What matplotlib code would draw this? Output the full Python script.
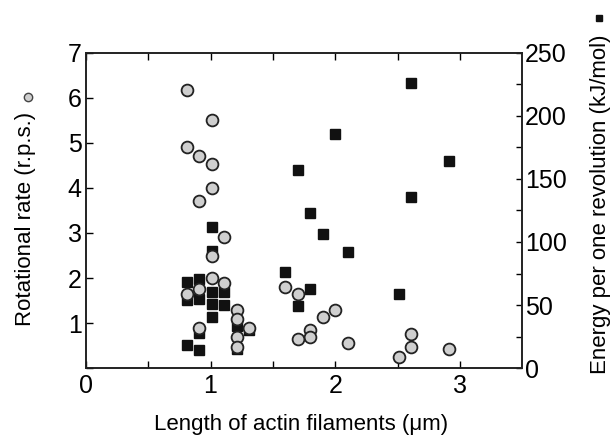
import matplotlib.pyplot as plt
from matplotlib.lines import Line2D
from matplotlib.ticker import MultipleLocator

plt.rcParams['font.family'] = ['Liberation Sans', 'DejaVu Sans']

# rotational rate (r.p.s.) vs filament length (um) -- open circles, left axis
rate_len = [0.81, 1.01, 0.81, 0.91, 1.01, 1.01, 0.91, 1.11, 1.01, 0.81, 0.91,
            1.01, 1.11, 1.21, 1.21, 1.21, 1.21, 1.31, 0.91,
            1.60, 1.70, 1.80, 1.80, 1.70, 1.90, 2.00, 2.10, 2.51, 2.61, 2.61, 2.91]
rate = [6.18, 5.50, 4.90, 4.70, 4.53, 4.00, 3.70, 2.90, 2.49, 1.64, 1.75,
        1.99, 1.90, 1.29, 1.08, 0.68, 0.47, 0.88, 0.90,
        1.79, 1.64, 0.84, 0.70, 0.64, 1.14, 1.30, 0.56, 0.24, 0.75, 0.46, 0.42]

# energy per revolution (kJ/mol) -- filled squares, right axis
en_len = [1.01, 1.01, 0.81, 0.81, 0.91, 0.91, 1.01, 1.01, 1.01, 1.11, 1.11,
          1.21, 1.21, 1.31, 0.91, 0.81, 0.91,
          2.61, 2.00, 2.91, 1.70, 1.80, 2.61, 1.90, 2.10, 1.60, 1.80, 1.70, 2.51]
energy = [112, 93, 68.5, 54, 71, 55, 60.5, 51, 40.5, 60, 50,
          33, 15.5, 30, 27.5, 18, 14,
          226, 186, 164, 157, 123, 136, 106, 92, 76.5, 63, 49.5, 59]

xticks = [0, 0.5, 1, 1.5, 2, 2.5, 3]
xlabels = ['0', '', '1', '', '2', '', '3']
yticks = [0, 1, 2, 3, 4, 5, 6, 7]
ylabels = ['', '1', '2', '3', '4', '5', '6', '7']
y2ticks = [0, 50, 100, 150, 200, 250]

fig = plt.figure(figsize=(6.13, 4.44), dpi=100)
ax = fig.add_axes([0.140, 0.171, 0.712, 0.710])
ax2 = ax.twinx()

ax2.plot(en_len, energy, 's', color='#111111', markersize=7.5,
         markeredgecolor='#111111', zorder=2)
ax.plot(rate_len, rate, 'o', markerfacecolor='#cfcfcf', markeredgecolor='#222222',
        markeredgewidth=1.3, markersize=8.5, zorder=3, clip_on=False)
ax.set_zorder(ax2.get_zorder() + 1)
ax.patch.set_visible(False)

ax.set_xlim(0, 3.5)
ax.set_ylim(0, 7)
ax2.set_ylim(0, 250)

ax.set_xticks(xticks)
ax.set_xticklabels(xlabels)
ax.set_yticks(yticks)
ax.set_yticklabels(ylabels)
ax2.set_yticks(y2ticks)
ax2.yaxis.set_minor_locator(MultipleLocator(25))

ax.tick_params(axis='x', direction='in', top=True, length=5, width=1,
               labelsize=18, pad=4)
ax.tick_params(axis='y', direction='in', length=5, width=1, labelsize=18, pad=3)
ax2.tick_params(axis='y', which='both', direction='in', length=4, width=1,
                labelsize=18, pad=2)

for a in (ax, ax2):
    for s in a.spines.values():
        s.set_linewidth(1.2)
        s.set_color('#222222')

ax.set_xlabel('Length of actin filaments (\u03bcm)', fontsize=16)
ax.set_ylabel('Rotational rate (r.p.s.)', fontsize=16)
ax2.set_ylabel('Energy per one revolution (kJ/mol)', fontsize=16)
ax.xaxis.set_label_coords(0.493, -0.178)
ax.yaxis.set_label_coords(-0.138, 0.473)
ax2.yaxis.set_label_coords(1.179, 0.519)
ax.xaxis.label.set_va('center')
ax.yaxis.label.set_va('center')
ax2.yaxis.label.set_va('center')

# legend keys next to the axis labels
fig.add_artist(Line2D([0.046], [0.782], marker='o', markersize=6,
                      markerfacecolor='#cfcfcf', markeredgecolor='#444444',
                      transform=fig.transFigure))
fig.add_artist(Line2D([0.977], [0.959], marker='s', markersize=5,
                      color='#111111', transform=fig.transFigure))

fig.savefig('out.png', dpi=100)
